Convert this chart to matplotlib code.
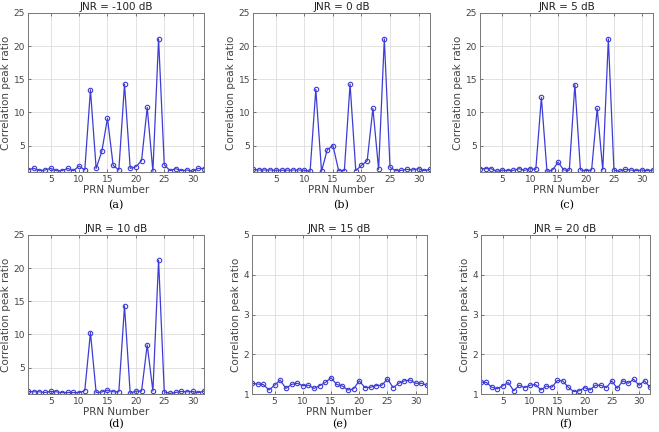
import matplotlib.pyplot as plt
import numpy as np

prn = np.arange(1, 33)

jnr_a = [1.32, 1.57, 1.2, 1.3, 1.55, 1.2, 1.2, 1.55, 1.2, 1.9, 1.3, 13.4, 1.55, 4.1, 9.1, 2.0,
         1.3, 14.27, 1.55, 1.8, 2.7, 10.74, 1.1, 21.1, 2.1, 1.2, 1.5, 1.2, 1.3, 1.1, 1.55, 1.5]
jnr_b = [1.4, 1.3, 1.3, 1.3, 1.27, 1.27, 1.27, 1.3, 1.3, 1.27, 1.1, 13.5, 1.1, 4.35, 5.0, 1.2,
         1.2, 14.27, 1.2, 2.0, 2.7, 10.6, 1.4, 21.1, 1.7, 1.2, 1.25, 1.4, 1.3, 1.5, 1.2, 1.4]
jnr_c = [1.5, 1.5, 1.5, 1.1, 1.3, 1.2, 1.25, 1.5, 1.25, 1.5, 1.4, 12.25, 1.1, 1.3, 2.5, 1.3,
         1.25, 14.2, 1.3, 1.2, 1.3, 10.6, 1.3, 21.1, 1.3, 1.1, 1.4, 1.3, 1.2, 1.3, 1.2, 1.3]
jnr_d = [1.38, 1.33, 1.33, 1.23, 1.38, 1.33, 1.2, 1.23, 1.23, 1.2, 1.5, 10.28, 1.23, 1.3, 1.58, 1.33,
         1.33, 14.3, 1.1, 1.43, 1.43, 8.4, 1.43, 21.2, 1.33, 1.1, 1.23, 1.38, 1.33, 1.38, 1.2, 1.43]
jnr_e = [1.27, 1.25, 1.24, 1.1, 1.22, 1.35, 1.14, 1.24, 1.27, 1.21, 1.22, 1.14, 1.21, 1.29, 1.41, 1.24,
         1.2, 1.1, 1.13, 1.33, 1.16, 1.17, 1.21, 1.22, 1.38, 1.16, 1.27, 1.33, 1.35, 1.27, 1.27, 1.22]
jnr_f = [1.3, 1.29, 1.17, 1.13, 1.21, 1.29, 1.08, 1.22, 1.16, 1.22, 1.24, 1.1, 1.2, 1.17, 1.34, 1.33,
         1.17, 1.06, 1.08, 1.16, 1.1, 1.22, 1.22, 1.16, 1.33, 1.14, 1.33, 1.27, 1.37, 1.22, 1.33, 1.17]

titles = ['JNR = -100 dB', 'JNR = 0 dB', 'JNR = 5 dB', 'JNR = 10 dB', 'JNR = 15 dB', 'JNR = 20 dB']
captions = ['(a)', '(b)', '(c)', '(d)', '(e)', '(f)']
series = [jnr_a, jnr_b, jnr_c, jnr_d, jnr_e, jnr_f]

fig = plt.figure(figsize=(6.59, 4.32), dpi=100)

W, H = 659, 432
# axes boxes in pixels: left, top, right, bottom
boxes = [(28, 13, 204, 172), (253, 13, 430, 172), (480, 13, 653, 172),
         (28, 235, 204, 394), (252, 235, 427, 394), (481, 235, 650, 394)]

line_col = '#3d3dd6'
for i, (y, box) in enumerate(zip(series, boxes)):
    l, t, r, b = box
    ax = fig.add_axes([l / W, 1 - b / H, (r - l) / W, (b - t) / H])
    ax.plot(prn, y, '-o', color=line_col, lw=0.9, ms=3.2, mfc='none', mew=0.8)
    ax.set_xlim(1, 32)
    ax.set_xticks([5, 10, 15, 20, 25, 30])
    if i < 4:
        ax.set_ylim(1, 25)
        ax.set_yticks([5, 10, 15, 20, 25])
    else:
        ax.set_ylim(1, 5)
        ax.set_yticks([1, 2, 3, 4, 5])
    ax.grid(True, color='#dddddd', lw=0.6)
    ax.set_axisbelow(True)
    for s in ax.spines.values():
        s.set_color('#777777')
        s.set_linewidth(0.7)
    ax.tick_params(labelsize=6.5, colors='#444444', length=2, width=0.5, direction='in',
                   top=True, right=True, pad=2)
    ax.set_title(titles[i], fontsize=7.5, color='#222222', pad=2)
    ax.set_ylabel('Correlation peak ratio', fontsize=7.5, color='#444444', labelpad=2)
    ax.set_xlabel('PRN Number', fontsize=7.5, color='#444444', labelpad=1)
    off = 33 if i < 3 else 30
    fig.text((l + r) / 2 / W, 1 - (b + off) / H, captions[i], ha='center', va='center',
             fontsize=8, family='serif')

fig.savefig('out.png', dpi=100)
